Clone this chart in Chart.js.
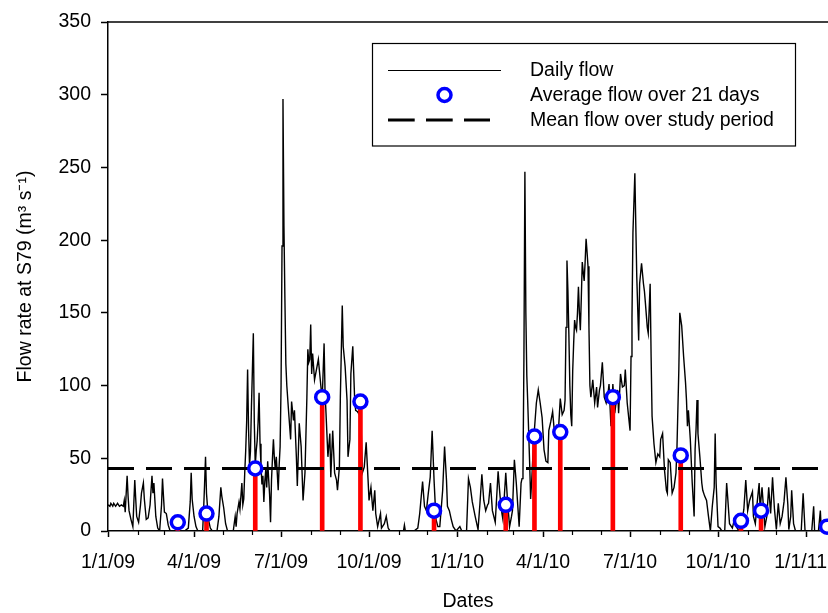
<!DOCTYPE html>
<html>
<head>
<meta charset="utf-8">
<script src="https://cdn.jsdelivr.net/npm/chart.js@4.4.0/dist/chart.umd.min.js"></script>
<style>
  body { margin: 0; background: #fff; }
  #wrap { width: 828px; height: 613px; }
</style>
</head>
<body>
<div id="wrap"><canvas id="flowChart" width="828" height="613"></canvas></div>
<script>
// x values are days counted from 1/1/09
const flowDays = [
  0, 2, 3, 5, 6, 8, 10, 12, 14, 16, 17, 18, 20, 21, 22, 24, 26, 28, 29, 30, 32, 34, 35, 37, 38, 40, 42, 44, 46, 47, 48, 50, 52, 54, 56, 57, 58, 59, 61, 63, 65,
  80, 84, 86, 87, 88, 90, 92, 94, 99, 100, 101, 102, 103, 105, 107, 109, 114, 116, 118, 119, 121, 123, 125, 131, 133, 134, 135, 137, 138,
  140, 141, 142, 143, 144, 145, 146, 147, 148, 149, 150, 151, 152, 153, 154, 155, 156, 157, 158, 159, 160, 161, 162, 163, 164, 165, 166, 167, 168, 169, 170,
  171, 172, 173, 174, 175, 176, 177, 178, 179, 180, 181, 182, 183, 184, 185, 186,
  187, 189, 191, 192, 194, 195, 197, 198, 200, 202, 204, 206, 208, 209, 210, 211, 212, 213, 214, 216, 218, 220, 222, 224, 226, 227, 228, 230, 232, 233, 235,
  237, 239, 240, 242, 243, 245, 246, 248, 250, 251, 253, 254, 256, 258, 259, 261, 262, 264, 266, 268, 270, 272, 273, 275, 277, 279, 280, 282, 285, 286, 289,
  291, 293, 295, 309, 310, 311, 320, 324, 326, 329, 331, 333, 335, 337, 339, 341, 343, 345, 347, 350, 352, 354, 355, 357, 359, 361, 364, 368, 370, 375, 377,
  379, 381, 384, 387, 389, 391, 393, 395, 397, 398, 400, 402, 405, 408, 410, 412, 413, 416, 418, 420, 422, 423, 425, 427, 430, 432, 433, 434, 435,
  436, 437, 438, 439, 441, 442, 443, 445, 446, 448, 450, 452, 454, 456, 458, 460, 461, 463, 465, 467, 469, 471, 473, 475, 477, 478, 479, 480, 481, 482, 483,
  484, 485, 486, 487, 488, 489, 490, 491, 492, 493, 494, 495, 496, 497, 498, 499, 500, 501, 502, 503, 504, 505,
  507, 509, 511, 512, 514, 515, 517, 519, 521, 523, 524, 526, 528, 530, 533, 534, 536, 538, 540, 541, 543, 546, 547, 548, 549, 551, 552, 553, 555, 556, 558,
  560, 561, 562, 564, 565, 567, 568, 569, 571, 573, 575, 577, 578, 580, 582, 584, 585, 586, 588, 590, 592, 594, 595, 597, 598, 600, 602, 604, 605, 606, 607,
  609, 611, 613, 614, 615, 616, 617, 619, 621, 622, 624, 626, 628, 630, 632, 634, 635, 636, 638, 640, 642, 645, 647, 648, 650, 653, 655, 657, 660, 662, 665,
  667, 669, 671, 674, 675, 677, 679, 681, 682, 684, 687, 689, 691, 693, 695, 697, 699, 701, 703, 705, 707, 709, 711, 712, 714, 715, 717, 719, 725, 727, 729,
  736, 738, 739, 743, 745, 746, 753
];
const flowValues = [
  18, 17, 19, 17, 19, 17, 19, 17, 18, 17, 21, 13, 38, 24, 14, 8, 3, 35, 22, 10, 6, 18, 26, 33, 22, 8, 9, 18, 38, 26, 33, 10, 2, 0, 18, 36, 24, 13, 12, 4, 0,
  0, 2, 20, 40, 22, 10, 3, 0, 0, 15, 32, 51, 26, 8, 2, 0, 0, 10, 30, 24, 16, 5, 0, 0, 10, 3, 12, 20, 15,
  33, 18, 22, 40, 55, 75, 111, 70, 45, 55, 85, 110, 136, 75, 45, 55, 62, 75, 95, 60, 45, 32, 38, 20, 34, 42, 30, 48, 36, 25, 6,
  35, 50, 63, 50, 42, 51, 40, 28, 45, 58, 100, 196, 297, 210, 160, 115,
  100, 81, 63, 89, 76, 83, 51, 31, 74, 58, 21, 40, 92, 125, 116, 118, 142, 108, 122, 104, 111, 118, 104, 90, 129, 95, 81, 51, 67, 37, 69,
  40, 35, 28, 44, 92, 155, 127, 113, 90, 51, 63, 108, 127, 90, 83, 82, 81, 90, 40, 44, 61, 35, 21, 30, 14, 28, 12, 3, 12, 2, 5,
  10, 2, 0, 0, 4, 0, 0, 2, 12, 34, 17, 14, 26, 37, 69, 35, 8, 3, 3, 28, 58, 35, 17, 14, 8, 3, 0, 3, 0, 0, 36,
  30, 20, 10, 1, 19, 39, 21, 14, 18, 19, 33, 14, 6, 41, 24, 12, 8, 40, 19, 3, 10, 14, 49, 33, 3, 33, 36, 40, 120,
  247, 150, 107, 88, 46, 22, 33, 60, 70, 88, 97, 88, 78, 56, 48, 47, 69, 75, 82, 67, 72, 68, 91, 80, 83, 90, 140, 186, 165, 135, 100,
  80, 72, 110, 129, 145, 140, 138, 150, 168, 150, 138, 160, 185, 178, 172, 185, 201, 192, 182, 140, 100, 92,
  104, 88, 99, 85, 97, 100, 116, 92, 88, 95, 101, 72, 101, 81, 97, 81, 108, 99, 100, 111, 88, 69, 120, 147, 205, 246, 210, 175, 131, 170, 184,
  170, 165, 157, 140, 136, 170, 120, 79, 60, 47, 53, 51, 63, 67, 42, 28, 26, 49, 47, 26, 30, 40, 56, 111, 150, 141, 120, 102, 90, 72, 83,
  63, 33, 10, 56, 70, 90, 67, 51, 33, 28, 24, 21, 10, 0, 17, 30, 67, 33, 3, 2, 0, 0, 33, 24, 5, 2, 8, 3, 0, 2, 15,
  35, 14, 21, 27, 10, 5, 20, 33, 15, 30, 3, 10, 30, 12, 37, 15, 1, 19, 5, 10, 20, 37, 18, 1, 10, 28, 5, 0, 0, 26, 0,
  0, 17, 0, 0, 14, 0, 0
];

const avgDays = [73, 103, 154, 224, 264, 341, 416, 446, 473, 528, 599, 662, 683, 752];
const avgValues = [6, 12, 43, 92, 89, 14, 18, 65, 68, 92, 52, 7, 14, 3];
const meanFlow = 43;

const xMaxDay = 753;
const tickDays = [0, 90, 181, 273, 365, 455, 546, 638, 730];
// last label padded so it sits left of its tick, as in the original
const tickLabels = ['1/1/09', '4/1/09', '7/1/09', '10/1/09', '1/1/10', '4/1/10', '7/1/10', '10/1/10', '1/1/11  '];
const monthDays = [31, 59, 120, 151, 212, 243, 304, 334, 396, 424, 485, 516, 577, 608, 669, 699];

const legendLabels = ['Daily flow', 'Average flow over 21 days', 'Mean flow over study period'];

const FONT = "'Liberation Sans', Arial, sans-serif";
Chart.defaults.font.family = FONT;
Chart.defaults.font.size = 19.5;
Chart.defaults.color = '#000';

// top frame line + small monthly ticks on the x axis
const framePlugin = {
    id: 'frame',
    afterDraw(chart) {
        const { ctx, chartArea } = chart;
        const x = chart.scales.x;
        ctx.save();
        ctx.strokeStyle = '#000';
        ctx.lineWidth = 1.5;
        ctx.beginPath();
        ctx.moveTo(chartArea.left, chartArea.top);
        ctx.lineTo(chartArea.right, chartArea.top);
        ctx.stroke();
        ctx.lineWidth = 1.2;
        monthDays.forEach(d => {
            const px = Math.round(x.getPixelForValue(d)) + 0.5;
            ctx.beginPath();
            ctx.moveTo(px, chartArea.bottom);
            ctx.lineTo(px, chartArea.bottom + 4);
            ctx.stroke();
        });
        ctx.restore();
    }
};

// boxed legend in the upper right
const legendPlugin = {
    id: 'boxLegend',
    afterDraw(chart) {
        const ctx = chart.ctx;
        ctx.save();
        ctx.fillStyle = '#fff';
        ctx.fillRect(372.5, 43.5, 423, 102.5);
        ctx.strokeStyle = '#000';
        ctx.lineWidth = 1.2;
        ctx.strokeRect(372.5, 43.5, 423, 102.5);

        ctx.beginPath();
        ctx.moveTo(388, 70.5);
        ctx.lineTo(501, 70.5);
        ctx.lineWidth = 1.2;
        ctx.stroke();

        ctx.beginPath();
        ctx.arc(444.5, 95, 6.5, 0, Math.PI * 2);
        ctx.fillStyle = '#fff';
        ctx.fill();
        ctx.lineWidth = 3.5;
        ctx.strokeStyle = '#0000ff';
        ctx.stroke();

        ctx.beginPath();
        ctx.setLineDash([26.7, 11.3]);
        ctx.strokeStyle = '#000';
        ctx.lineWidth = 3;
        ctx.moveTo(388, 120);
        ctx.lineTo(490, 120);
        ctx.stroke();
        ctx.setLineDash([]);

        ctx.fillStyle = '#000';
        ctx.font = '19.5px ' + FONT;
        ctx.textBaseline = 'middle';
        ctx.textAlign = 'left';
        legendLabels.forEach((t, i) => ctx.fillText(t, 530, 71 + i * 25));
        ctx.restore();
    }
};

const ctx = document.getElementById('flowChart').getContext('2d');
new Chart(ctx, {
    type: 'line',
    data: {
        datasets: [
            {
                label: legendLabels[1],
                data: avgDays.map((d, i) => ({ x: d, y: avgValues[i] })),
                showLine: false,
                pointRadius: 6.5,
                pointBorderWidth: 3.5,
                pointBackgroundColor: '#fff',
                pointBorderColor: '#0000ff',
                clip: false,
                order: 0
            },
            {
                label: legendLabels[2],
                data: [{ x: 0, y: meanFlow }, { x: xMaxDay, y: meanFlow }],
                borderColor: '#000',
                borderWidth: 3,
                borderDash: [26, 12],
                pointRadius: 0,
                order: 1
            },
            {
                type: 'bar',
                label: 'bars',
                data: avgDays.map((d, i) => ({ x: d, y: avgValues[i] })),
                backgroundColor: '#ff0000',
                barThickness: 4,
                order: 2
            },
            {
                label: legendLabels[0],
                data: flowDays.map((d, i) => ({ x: d, y: flowValues[i] })),
                borderColor: '#000',
                borderWidth: 1.4,
                pointRadius: 0,
                tension: 0,
                order: 3
            }
        ]
    },
    options: {
        responsive: false,
        animation: false,
        layout: {
            autoPadding: false,
            padding: { top: 22, right: 0, left: 0, bottom: 0 }
        },
        plugins: {
            legend: { display: false },
            tooltip: { enabled: false }
        },
        scales: {
            x: {
                type: 'linear',
                min: 0,
                max: xMaxDay,
                offset: false,
                afterFit: s => {
                    s.height = 82;
                    s.paddingLeft = 0;
                    s.paddingRight = 0;
                },
                afterBuildTicks: s => { s.ticks = tickDays.map(v => ({ value: v })); },
                ticks: {
                    autoSkip: false,
                    maxRotation: 0,
                    padding: 14,
                    callback: v => tickLabels[tickDays.indexOf(v)]
                },
                grid: {
                    offset: false,
                    drawOnChartArea: false,
                    drawTicks: true,
                    tickLength: 6,
                    tickWidth: 1.5,
                    tickColor: '#000'
                },
                border: { color: '#000', width: 1.5 },
                title: {
                    display: true,
                    text: 'Dates',
                    padding: { top: 0, bottom: 0 }
                }
            },
            y: {
                min: 0,
                max: 350,
                afterFit: s => {
                    s.width = 108;
                    s.paddingTop = 0;
                    s.paddingBottom = 0;
                },
                ticks: { stepSize: 50, padding: 10 },
                grid: {
                    drawOnChartArea: false,
                    drawTicks: true,
                    tickLength: 7,
                    tickWidth: 1.5,
                    tickColor: '#000'
                },
                border: { color: '#000', width: 1.5 },
                title: {
                    display: true,
                    text: 'Flow rate at S79 (m³ s⁻¹)',
                    padding: { top: 14, bottom: 0 }
                }
            }
        }
    },
    plugins: [framePlugin, legendPlugin]
});
</script>
</body>
</html>
